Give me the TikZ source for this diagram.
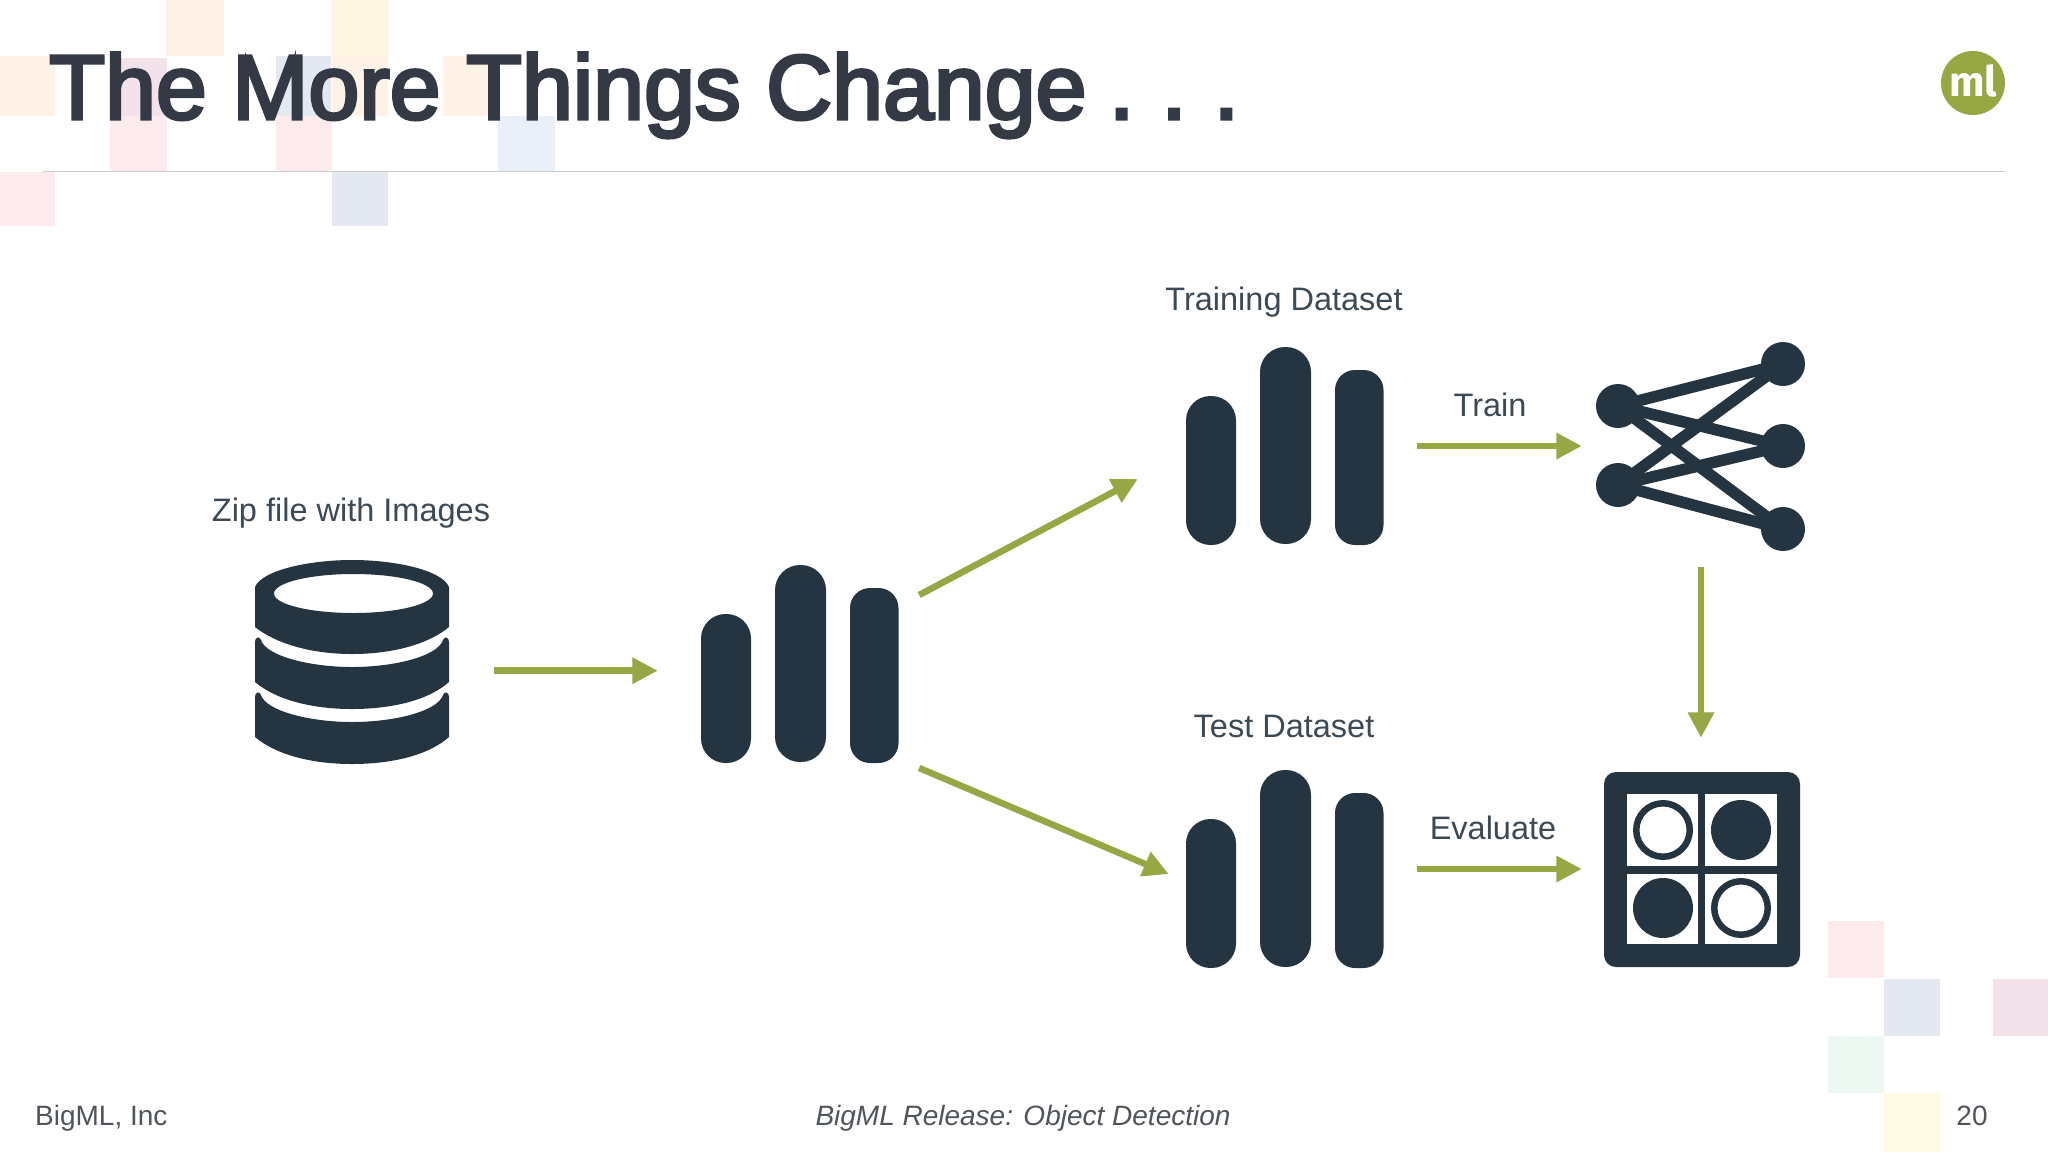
\documentclass[tikz,border=0pt]{standalone}
\usepackage{fontspec}
\setmainfont{Liberation Sans}
\newfontfamily\logofont{Fira Sans}
\newfontfamily\titlefont[FakeBold=3.5]{Liberation Sans}
\usepackage{tikz}
\usetikzlibrary{arrows.meta, positioning, calc}
\definecolor{ink}{HTML}{243541}
\definecolor{leaf}{HTML}{96A743}
\definecolor{titleink}{HTML}{333A45}
\definecolor{labelink}{HTML}{3C4A55}
\definecolor{footink}{HTML}{50555B}
\definecolor{peach}{HTML}{FFF2E6}
\definecolor{cream}{HTML}{FFF5E3}
\definecolor{rose}{HTML}{FDEAEC}
\definecolor{mauve}{HTML}{F4E2EA}
\definecolor{haze}{HTML}{E4E9F1}
\definecolor{sky}{HTML}{EAF0F9}
\definecolor{mint}{HTML}{ECF8F2}
\definecolor{straw}{HTML}{FFFAE3}
\tikzset{
  flow/.style={draw=leaf, line width=6.5pt, -{Triangle[length=25.5pt,width=25pt]}},
  label/.style={text=labelink, font=\fontsize{32.5}{32.5}\selectfont, inner sep=0pt, anchor=base},
  foot/.style={text=footink, font=\fontsize{28}{28}\selectfont, inner sep=0pt, anchor=base},
  iconbox/.style={inner sep=0pt, minimum width=198pt, minimum height=198pt},
  dot/.style={circle, fill=ink, inner sep=0pt, minimum size=44pt},
  wire/.style={draw=ink, line width=11.5pt},
  pane/.style={fill=white},
  ring/.style={draw=ink, line width=6.5pt, fill=white},
}
% three bars inside a named box
\newcommand{\barsicon}[1]{
  \fill[ink, rounded corners=24.5pt] ($(#1)+(-99,-50)$) rectangle ($(#1)+(-49,99)$);
  \fill[ink, rounded corners=25pt] ($(#1)+(-25,-99)$) rectangle ($(#1)+(26,98)$);
  \fill[ink, rounded corners=20pt] ($(#1)+(50,-76)$) rectangle ($(#1)+(98.5,99)$);
}
\begin{document}
\begin{tikzpicture}[x=1pt,y=-1pt]
  \useasboundingbox (0,0) rectangle (2048,1152);
  \fill[white] (0,0) rectangle (2048,1152);

  % pale squares
  \fill[peach] (166,0) rectangle (224,56);
  \fill[cream] (332,0) rectangle (388,56);
  \fill[peach] (0,56) rectangle (55,116);
  \fill[mauve] (110,58) rectangle (167,116);
  \fill[rose] (110,116) rectangle (167,172);
  \fill[haze] (276,56) rectangle (331,116);
  \fill[peach] (332,56) rectangle (388,116);
  \fill[peach] (443,56) rectangle (499,116);
  \fill[rose] (276,116) rectangle (332,172);
  \fill[sky] (498,116) rectangle (555,172);
  \fill[rose] (0,172) rectangle (55,226);
  \fill[haze] (332,172) rectangle (388,226);
  \fill[rose] (1828,921) rectangle (1884,978);
  \fill[haze] (1884,979) rectangle (1940,1036);
  \fill[mauve] (1993,979) rectangle (2048,1036);
  \fill[mint] (1828,1036) rectangle (1884,1093);
  \fill[straw] (1884,1093) rectangle (1940,1152);

  \node (heading) [anchor=base west, inner sep=0pt, text=titleink, font=\titlefont\fontsize{91.5}{91.5}\selectfont] at (49,119) {The More Things Change\hspace{-3pt} .\hspace{-7pt} .\hspace{-7pt} .};
  \draw[gray!40, line width=1pt] (43,171.5) -- (2005,171.5);
  \node (logo) [circle, fill=leaf, inner sep=0pt, minimum size=64pt] at (1973,83) {};
  \node (logotext) [text=white, inner sep=0pt, font=\logofont\bfseries\fontsize{42}{42}\selectfont] at (1973,81) {ml};

  \node (zip) [iconbox, minimum width=194pt, minimum height=204pt] at (352,662) {};
  \node (split) [iconbox] at (800,664) {};
  \node (train) [iconbox] at (1285,446) {};
  \node (test) [iconbox] at (1285,869) {};
  \node (net) [iconbox, minimum width=209pt] at (1700,446) {};
  \node (matrix) [iconbox] at (1702,869) {};

  \node (ziplabel) [label] at (351,521) {Zip file with Images};
  \node (trainlabel) [label] at (1284,310) {Training Dataset};
  \node (testlabel) [label] at (1284,737) {Test Dataset};
  \node (trainword) [label] at (1490,416) {Train};
  \node (evalword) [label] at (1493,839) {Evaluate};

  % stacked disks
  \fill[ink, even odd rule] (255,587) .. controls (262,570) and (310,560) .. (352,560) .. controls (395,560) and (442,570) .. (449,587) -- (449,627) .. controls (430,643) and (395,654) .. (352,654) .. controls (310,654) and (275,643) .. (255,627) -- cycle (353.5,593.5) ellipse [x radius=79.5, y radius=19.5];
  \foreach \t in {0,55} {
    \fill[ink] (255,642+\t) .. controls (255,638+\t) and (259,635+\t) .. (261,640+\t) .. controls (266,656+\t) and (310,667+\t) .. (352,667+\t) .. controls (395,667+\t) and (438,656+\t) .. (443,640+\t) .. controls (445,635+\t) and (449,638+\t) .. (449,642+\t) -- (449,682+\t) .. controls (430,699+\t) and (395,709+\t) .. (352,709+\t) .. controls (310,709+\t) and (275,699+\t) .. (255,682+\t) -- cycle;
  }

  \barsicon{split}
  \barsicon{train}
  \barsicon{test}

  % network
  \node (l1) [dot] at (1618,406) {};
  \node (l2) [dot] at (1618,485) {};
  \node (r1) [dot] at (1783,364) {};
  \node (r2) [dot] at (1783,446) {};
  \node (r3) [dot] at (1783,529) {};
  \foreach \a in {l1,l2} {
    \foreach \b in {r1,r2,r3} {
      \draw[wire] (\a.center) -- (\b.center);
    }
  }

  % confusion grid
  \fill[ink, rounded corners=12pt] (1604,772) rectangle (1800,967);
  \fill[pane] (1627,794) rectangle (1698,866);
  \fill[pane] (1705,794) rectangle (1777,866);
  \fill[pane] (1627,874) rectangle (1698,944);
  \fill[pane] (1705,874) rectangle (1777,944);
  \node (c1) [circle, ring, inner sep=0pt, minimum size=53.5pt] at (1663,830) {};
  \node (c2) [circle, fill=ink, inner sep=0pt, minimum size=60pt] at (1741,830) {};
  \node (c3) [circle, fill=ink, inner sep=0pt, minimum size=60pt] at (1663,908) {};
  \node (c4) [circle, ring, inner sep=0pt, minimum size=53.5pt] at (1741,908) {};

  \draw[flow] ([shift={(45,8.7)}]zip.east) -- ([shift={(-43,6.7)}]split.west);
  \draw[flow] ([shift={(20,-69)}]split.east) -- ([shift={(-48,33)}]train.west);
  \draw[flow] ([shift={(20,104)}]split.east) -- ([shift={(-17,5)}]test.west);
  \draw[flow] ([shift={(33,0)}]train.east) -- ([shift={(-13.5,0)}]net.west);
  \draw[flow] ([shift={(33,0)}]test.east) -- ([shift={(-21,0)}]matrix.west);
  \draw[flow] ([shift={(1,22)}]net.south) -- ([shift={(-1,-32)}]matrix.north);

  \node (company) [foot, anchor=base west] at (35,1125) {BigML, Inc};
  \node (release) [foot] at (1023,1125) {\itshape BigML Release: Object Detection};
  \node (pagenum) [foot] at (1972,1125) {20};
\end{tikzpicture}
\end{document}
